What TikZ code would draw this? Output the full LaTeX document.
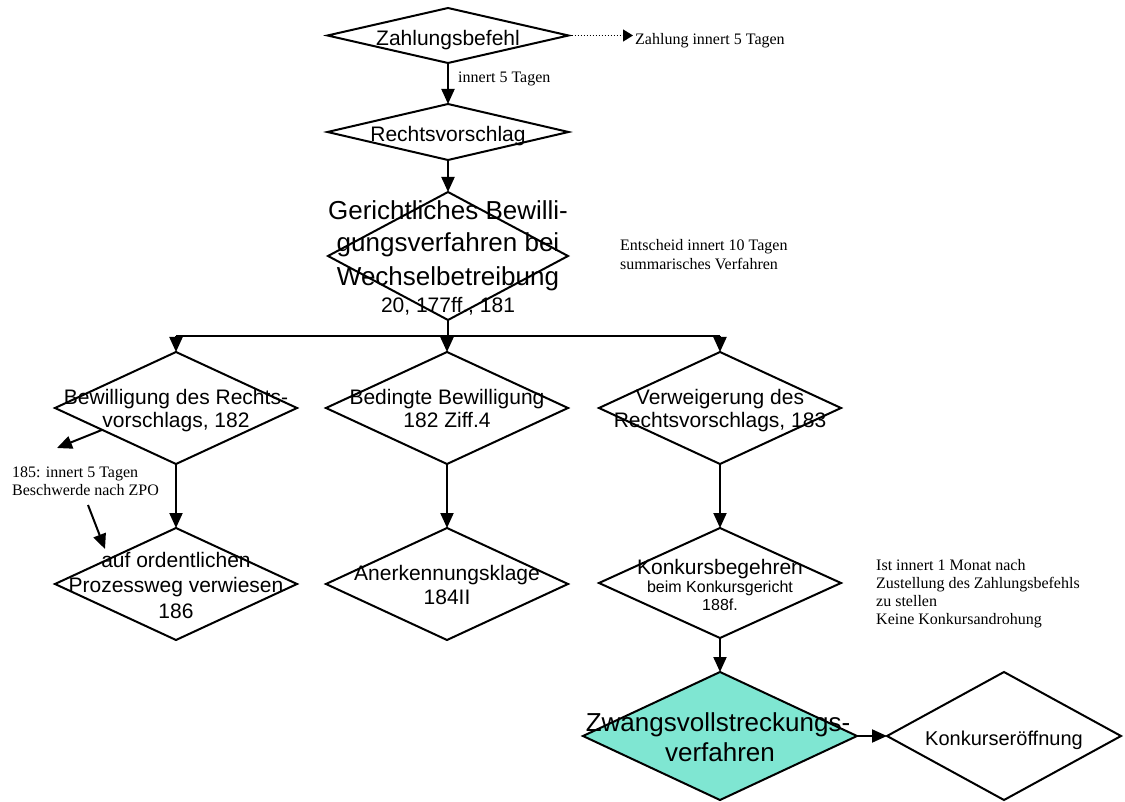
\documentclass[tikz,border=0pt]{standalone}
\usepackage{fontspec}
\setmainfont{Liberation Sans}
\newfontfamily\timesfam{Liberation Serif}
\usetikzlibrary{shapes.geometric,arrows.meta,calc}
\definecolor{turq}{RGB}{127,230,210}
\begin{document}
\begin{tikzpicture}[x=1pt,y=-1pt,
  dia/.style={diamond, draw, line width=2pt, minimum width=242pt, minimum height=112pt, inner sep=0pt, outer sep=0pt},
  big/.style={font=\fontsize{21}{24}\selectfont, inner sep=0pt, anchor=base},
  huge/.style={font=\fontsize{26}{30}\selectfont, inner sep=0pt, anchor=base},
  small/.style={font=\fontsize{16}{18}\selectfont, inner sep=0pt, anchor=base},
  ann/.style={font=\timesfam\fontsize{16}{18}\selectfont, inner sep=0pt, anchor=base west},
  arr/.style={line width=2pt, -{Triangle[length=15pt,width=13pt]}},
  plain/.style={line width=2pt},
  dotarr/.style={line width=1.3pt, dash pattern=on 1.3pt off 1.7pt, -{Triangle[length=10pt,width=12pt]}}
]
\useasboundingbox (0,0) rectangle (1125,802);

% diamonds
\node[dia, minimum width=241pt, minimum height=55pt] (zahl) at (448,35.5) {};
\node[dia, minimum width=241pt, minimum height=56pt] (rechts) at (448,132) {};
\node[dia, minimum width=240pt, minimum height=128pt] (ger) at (448,256) {};
\node[dia] (bew) at (176,408) {};
\node[dia] (bed) at (447,408) {};
\node[dia] (verw) at (720,408) {};
\node[dia] (proz) at (176,584) {};
\node[dia] (aner) at (447,584) {};
\node[dia, minimum height=110pt] (konk) at (720,583) {};
\node[dia, fill=turq, minimum width=274pt, minimum height=128pt] (zwang) at (720,736) {};
\node[dia, minimum width=234pt, minimum height=128pt] (eroeff) at (1004,736) {};

% texts in diamonds
\node[big] (zahl-t) at (448,45.7) {Zahlungsbefehl};
\node[big] (rechts-t) at (448,141.7) {Rechtsvorschlag};
\node[huge] (ger-t1) at (448,220) {Gerichtliches Bewilli-};
\node[huge] (ger-t2) at (448,252) {gungsverfahren bei};
\node[huge] (ger-t3) at (448,286) {Wechselbetreibung};
\node[big] (ger-t4) at (448,313) {20, 177ff., 181};
\node[big] (bew-t1) at (176,404) {Bewilligung des Rechts-};
\node[big] (bew-t2) at (176,428) {vorschlags, 182};
\node[big] (bed-t1) at (447,404) {Bedingte Bewilligung};
\node[big] (bed-t2) at (447,428) {182 Ziff.4};
\node[big] (verw-t1) at (720,404) {Verweigerung des};
\node[big] (verw-t2) at (720,428) {Rechtsvorschlags, 183};
\node[big] (proz-t1) at (176,567) {auf ordentlichen};
\node[big] (proz-t2) at (176,592) {Prozessweg verwiesen};
\node[big] (proz-t3) at (176,618) {186};
\node[big] (aner-t1) at (447,580) {Anerkennungsklage};
\node[big] (aner-t2) at (447,604) {184II};
\node[big] (konk-t1) at (720,574) {Konkursbegehren};
\node[small] (konk-t2) at (720,592) {beim Konkursgericht};
\node[small] (konk-t3) at (720,610) {188f.};
\node[huge] (zwang-t1) at (718,731) {Zwangsvollstreckungs-};
\node[huge] (zwang-t2) at (720,761) {verfahren};
\node[big, font=\fontsize{20}{24}\selectfont] (eroeff-t) at (1004,745) {Konkurser\"offnung};

% annotations
\node[ann] (zl) at (635,44.5) {Zahlung innert 5 Tagen};
\node[ann] (in5) at (458,82.7) {innert 5 Tagen};
\node[ann] (ent1) at (620,251) {Entscheid innert 10 Tagen};
\node[ann] (ent2) at (620,270) {summarisches Verfahren};
\node[ann] (b1) at (12,477.7) {185: innert 5 Tagen};
\node[ann] (b2) at (12,495.5) {Beschwerde nach ZPO};
\node[ann] (k1) at (876,570) {Ist innert 1 Monat nach};
\node[ann] (k2) at (876,588) {Zustellung des Zahlungsbefehls};
\node[ann] (k3) at (876,606) {zu stellen};
\node[ann] (k4) at (876,624) {Keine Konkursandrohung};

% connectors
\draw[dotarr] (zahl.east) -- ($(zahl.east -| zl.west)+(-2,0)$);
\draw[arr] (zahl.south) -- (rechts.north);
\draw[arr] (rechts.south) -- (ger.north);
\coordinate (bus) at (448,336);
\draw[plain] (ger.south) -- (bus);
\draw[plain] (bew.north |- bus) -- (verw.north |- bus);
\draw[arr] (bew.north |- bus) -- (bew.north);
\draw[arr] (bed.north |- bus) -- (bed.north);
\draw[arr] (verw.north |- bus) -- (verw.north);
\draw[arr] (bew.south) -- (proz.north);
\draw[arr] (bed.south) -- (aner.north);
\draw[arr] (verw.south) -- (konk.north);
\draw[arr] (konk.south) -- (zwang.north);
\draw[arr] (zwang.east) -- (eroeff.west);
\coordinate (a1e) at (57,448);
\draw[arr] ($(bew.west)!0.39!(bew.south)$) -- (a1e);
\coordinate (a2s) at (88,505);
\coordinate (a2e) at (105,549);
\draw[arr] (a2s) -- (a2e);
\end{tikzpicture}
\end{document}
